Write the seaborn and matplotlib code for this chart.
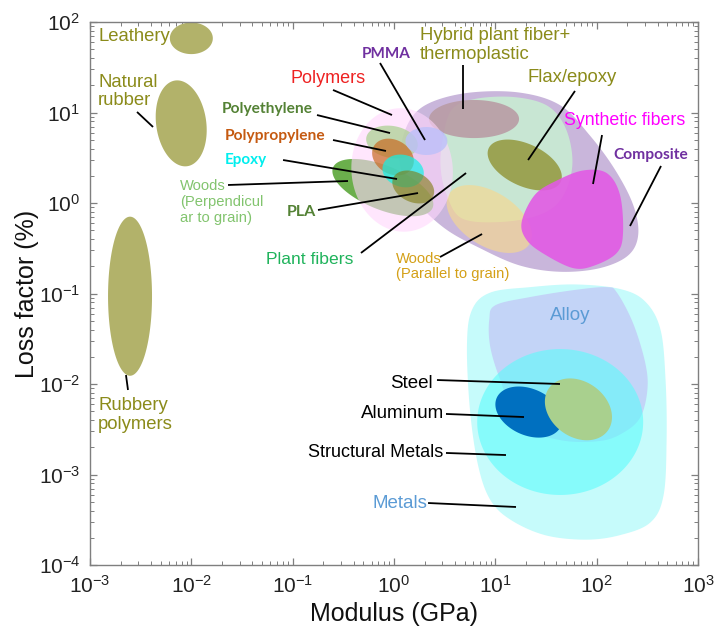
import numpy as np
import matplotlib
matplotlib.use("Agg")
import matplotlib.pyplot as plt
import seaborn as sns

# ---------------------------------------------------------------------------
# Material families on a loss factor vs. modulus map.
# All coordinates are log10(modulus / GPa) and log10(loss factor / %).
# Ellipses: (centre logE, centre logEta, semi-major, semi-minor, tilt in deg)
# with the semi-axes given in decades of the modulus axis.
# ---------------------------------------------------------------------------
leathery = (-2.00, 1.82, 0.212, 0.156, 0)
natural_rubber = (-2.10, 0.88, 0.427, 0.247, 98)
rubbery_polymers = (-2.605, -1.03, 0.785, 0.217, 90)

polymers = (0.08, 0.365, 0.61, 0.50, 95)
woods_perp = (-0.11, 0.17, 0.53, 0.217, -22)
polyethylene = (-0.02, 0.674, 0.257, 0.158, -10)
polypropylene = (-0.01, 0.508, 0.217, 0.168, -30)
epoxy = (0.09, 0.354, 0.207, 0.158, -15)
pla = (0.19, 0.177, 0.217, 0.148, -25)
pmma = (0.32, 0.685, 0.207, 0.138, 0)
hybrid = (0.79, 0.928, 0.444, 0.188, 0)
flax_epoxy = (1.29, 0.42, 0.392, 0.208, -25)
woods_par = (0.94, -0.177, 0.467, 0.266, -32)

structural_metals = (1.64, -2.42, 0.819, 0.720, 0)
aluminum = (1.33, -2.31, 0.346, 0.229, -24)
steel = (1.82, -2.28, 0.358, 0.273, -36)

# free-form envelopes (outline vertices)
composite_logE = [0.06, 0.16, 0.36, 0.75, 1.24, 1.64, 1.93, 2.18, 2.36, 2.41,
                  2.31, 2.03, 1.64, 1.24, 0.85, 0.50, 0.21, 0.08]
composite_logEta = [0.59, 0.92, 1.11, 1.22, 1.22, 1.08, 0.75, 0.37, -0.02, -0.35,
                    -0.58, -0.72, -0.76, -0.69, -0.50, -0.28, 0.03, 0.31]

plant_logE = [0.48, 0.57, 0.80, 1.19, 1.52, 1.70, 1.76, 1.66, 1.44, 1.05, 0.67, 0.52, 0.46]
plant_logEta = [0.70, 1.03, 1.15, 1.17, 1.07, 0.81, 0.42, 0.06, -0.13, -0.21, -0.17, 0.09, 0.39]

synthetic_logE = [1.26, 1.39, 1.61, 1.87, 2.10, 2.23, 2.26, 2.20, 1.98, 1.77, 1.49, 1.31]
synthetic_logEta = [-0.21, 0.09, 0.25, 0.36, 0.33, 0.09, -0.33, -0.55, -0.69, -0.72, -0.57, -0.41]

metals_logE = [0.72, 0.77, 0.95, 1.34, 1.79, 2.23, 2.48, 2.63, 2.68, 2.69,
               2.66, 2.53, 2.23, 1.89, 1.49, 1.15, 0.95, 0.83, 0.75]
metals_logEta = [-1.57, -1.18, -0.99, -0.93, -0.90, -0.95, -1.09, -1.40, -1.96, -2.62,
                 -3.23, -3.53, -3.67, -3.72, -3.67, -3.50, -3.28, -2.90, -2.29]

alloy_logE = [0.94, 1.00, 1.34, 1.79, 2.10, 2.20, 2.36, 2.48, 2.50, 2.43,
              2.26, 2.03, 1.64, 1.24, 1.05, 0.95]
alloy_logEta = [-1.29, -1.13, -1.04, -0.96, -0.93, -0.99, -1.33, -1.77, -2.07, -2.37,
                -2.54, -2.63, -2.62, -2.45, -1.96, -1.59]

# leader lines: (logE start, logEta start, logE end, logEta end)
leaders = [
    (-2.536, 1.006, -2.378, 0.840),    # natural rubber
    (-2.645, -1.901, -2.625, -2.066),  # rubbery polymers
    (-0.602, 1.249, -0.020, 0.972),    # polymers
    (-0.760, 0.972, -0.039, 0.773),    # polyethylene
    (-0.602, 0.696, -0.079, 0.575),    # polypropylene
    (-1.095, 0.475, 0.030, 0.265),     # epoxy
    (-1.638, 0.199, -0.454, 0.243),    # woods perpendicular
    (-0.750, -0.077, 0.237, 0.110),    # PLA
    (-0.326, -0.552, 0.711, 0.331),    # plant fibers
    (-0.138, 1.547, 0.306, 0.696),     # PMMA
    (0.681, 1.525, 0.681, 1.039),      # hybrid
    (1.786, 1.238, 1.323, 0.475),      # flax/epoxy
    (2.053, 0.751, 1.964, 0.210),      # synthetic fibers
    (2.635, 0.409, 2.329, -0.254),     # composite
    (0.454, -0.597, 0.869, -0.343),    # woods parallel
    (0.424, -1.956, 1.638, -2.000),    # steel
    (0.513, -2.331, 1.283, -2.365),    # aluminum
    (0.513, -2.762, 1.105, -2.785),    # structural metals
    (0.336, -3.315, 1.204, -3.359),    # metals
]

# labels: (text, logE, logEta, colour, size, weight, family, ha)
SANS = ["Liberation Sans", "DejaVu Sans"]
CAL = ["Lato", "DejaVu Sans"]
OLIVE = "#8b8b1a"
labels = [
    ("Leathery", -2.921, 1.845, OLIVE, 13.3, "normal", SANS, "left"),
    ("Natural\nrubber", -2.921, 1.232, OLIVE, 13.3, "normal", SANS, "left"),
    ("Rubbery\npolymers", -2.921, -2.343, OLIVE, 13.3, "normal", SANS, "left"),
    ("Polymers", -1.026, 1.381, "#ee2222", 13, "normal", SANS, "left"),
    ("Polyethylene", -1.697, 1.039, "#548235", 11.2, "bold", CAL, "left"),
    ("Polypropylene", -1.668, 0.740, "#c55a11", 11.2, "bold", CAL, "left"),
    ("Epoxy", -1.668, 0.475, "#00eeee", 11.0, "bold", CAL, "left"),
    ("Woods\n(Perpendicul\nar to grain)", -2.112, 0.011, "#82c46e", 10.6, "normal", SANS, "left"),
    ("PLA", -1.056, -0.099, "#548235", 11.5, "bold", CAL, "left"),
    ("Plant fibers", -1.263, -0.619, "#1fb35b", 12.6, "normal", SANS, "left"),
    ("PMMA", -0.316, 1.646, "#7030a0", 11.0, "bold", CAL, "left"),
    ("Hybrid plant fiber+\nthermoplastic", 0.257, 1.746, OLIVE, 13.3, "normal", SANS, "left"),
    ("Flax/epoxy", 1.313, 1.392, OLIVE, 13.3, "normal", SANS, "left"),
    ("Synthetic fibers", 1.678, 0.917, "#ff00ff", 12.8, "normal", SANS, "left"),
    ("Composite", 2.161, 0.530, "#7030a0", 11.2, "bold", CAL, "left"),
    ("Woods\n(Parallel to grain)", 0.020, -0.702, "#d4a017", 10.6, "normal", SANS, "left"),
    ("Alloy", 1.540, -1.238, "#5b9bd5", 13.5, "normal", SANS, "left"),
    ("Steel", 0.385, -2.000, "black", 13.5, "normal", SANS, "right"),
    ("Aluminum", 0.494, -2.331, "black", 13.5, "normal", SANS, "right"),
    ("Structural Metals", 0.484, -2.762, "black", 13.0, "normal", SANS, "right"),
    ("Metals", 0.326, -3.315, "#5b9bd5", 13.5, "normal", SANS, "right"),
]

xtick_exps = [-3, -2, -1, 0, 1, 2, 3]
ytick_exps = [-4, -3, -2, -1, 0, 1, 2]

# ---------------------------------------------------------------------------
sns.set_theme(style="ticks")
plt.rcParams["font.family"] = SANS
plt.rcParams["mathtext.default"] = "regular"

fig = plt.figure(figsize=(7.16, 6.33), dpi=100)
ax = fig.add_axes([90 / 716, 1 - 565 / 633, 608 / 716, 543 / 633])
ax.set_xscale("log")
ax.set_yscale("log")
ax.set_xlim(1e-3, 1e3)
ax.set_ylim(1e-4, 1e2)

# ratio of screen length per decade (y / x) so that tilts look right on screen
K = (543 / 6) / (608 / 6)


def ellipse_pts(spec, n=200):
    cx, cy, a, b, ang = spec
    t = np.linspace(0, 2 * np.pi, n)
    th = np.deg2rad(ang)
    u = cx + a * np.cos(t) * np.cos(th) - b * np.sin(t) * np.sin(th)
    v = cy * K + a * np.cos(t) * np.sin(th) + b * np.sin(t) * np.cos(th)
    return 10 ** u, 10 ** (v / K)


def blob_pts(lx, ly, n=24):
    P = np.column_stack([lx, np.asarray(ly) * K])
    N = len(P)
    t = np.linspace(0, 1, n, endpoint=False)[:, None]
    segs = []
    for i in range(N):
        p0, p1, p2, p3 = P[i - 1], P[i], P[(i + 1) % N], P[(i + 2) % N]
        segs.append(0.5 * (2 * p1 + (-p0 + p2) * t
                           + (2 * p0 - 5 * p1 + 4 * p2 - p3) * t ** 2
                           + (-p0 + 3 * p1 - 3 * p2 + p3) * t ** 3))
    S = np.vstack(segs)
    return 10 ** S[:, 0], 10 ** (S[:, 1] / K)


def fill(xy, color, alpha=1.0):
    ax.fill(xy[0], xy[1], color=color, alpha=alpha, lw=0)


# rubbers
fill(ellipse_pts(leathery), "#b2b26a")
fill(ellipse_pts(natural_rubber), "#b2b26a")
fill(ellipse_pts(rubbery_polymers), "#b2b26a")

# metals
fill(blob_pts(metals_logE, metals_logEta), "#c6fbfb")
fill(blob_pts(alloy_logE, alloy_logEta), "#c3d2f7", 0.95)
fill(ellipse_pts(structural_metals), "#5cfcfc", 0.6)
fill(ellipse_pts(aluminum), "#0070c0")
fill(ellipse_pts(steel), "#a9d08e")

# composites, natural fibres and polymers
fill(blob_pts(composite_logE, composite_logEta), "#c9b6db")
fill(blob_pts(plant_logE, plant_logEta), "#c8e6d3")
fill(ellipse_pts(hybrid), "#b99ca5", 0.9)
fill(ellipse_pts(flax_epoxy), "#969c45", 0.9)
fill(ellipse_pts(woods_par), "#f7d88e", 0.65)
fill(blob_pts(synthetic_logE, synthetic_logEta), "#e25ae4", 0.9)
fill(ellipse_pts(woods_perp), "#63ab42", 0.95)
fill(ellipse_pts(polymers), "#ffd6fd", 0.6)
fill(ellipse_pts(polyethylene), "#b2d39a", 0.8)
fill(ellipse_pts(polypropylene), "#c86a22", 0.7)
fill(ellipse_pts(epoxy), "#10f2e6", 0.7)
fill(ellipse_pts(pla), "#7f7a10", 0.6)
fill(ellipse_pts(pmma), "#bcc0fa", 0.8)

for x0, y0, x1, y1 in leaders:
    ax.plot([10 ** x0, 10 ** x1], [10 ** y0, 10 ** y1], color="black", lw=1.3,
            solid_capstyle="butt")

for txt, lx, ly, col, size, weight, fam, ha in labels:
    ax.text(10 ** lx, 10 ** ly, txt, color=col, fontsize=size, fontweight=weight,
            family=fam, ha=ha, va="center", linespacing=1.15)

ax.set_xticks([10.0 ** e for e in xtick_exps])
ax.set_xticklabels([f"$10^{{{e}}}$" for e in xtick_exps])
ax.set_yticks([10.0 ** e for e in ytick_exps])
ax.set_yticklabels([f"$10^{{{e}}}$" for e in ytick_exps])
ax.tick_params(which="both", direction="in", top=True, right=True, color="#7f7f7f",
               labelsize=15, labelcolor="#222222")
ax.tick_params(which="major", length=5, width=0.9, pad=7)
ax.tick_params(which="minor", length=3, width=0.7)
for s in ax.spines.values():
    s.set_color("#7f7f7f")
    s.set_linewidth(1.0)

ax.set_xlabel("Modulus (GPa)", fontsize=18, color="#111111", labelpad=4)
ax.set_ylabel("Loss factor (%)", fontsize=18, color="#111111", labelpad=0)

fig.savefig("out.png", dpi=100)
